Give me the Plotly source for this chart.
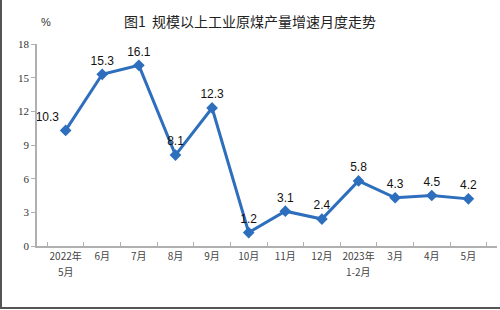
import plotly.graph_objects as go

categories = ["2022年5月", "6月", "7月", "8月", "9月", "10月", "11月", "12月",
              "2023年1-2月", "3月", "4月", "5月"]
tick_line1 = ["2022年", "6月", "7月", "8月", "9月", "10月", "11月", "12月",
              "2023年", "3月", "4月", "5月"]
tick_line2 = ["5月", "", "", "", "", "", "", "", "1-2月", "", "", ""]
values = [10.3, 15.3, 16.1, 8.1, 12.3, 1.2, 3.1, 2.4, 5.8, 4.3, 4.5, 4.2]
labels = ["10.3", "15.3", "16.1", "8.1", "12.3", "1.2", "3.1", "2.4", "5.8", "4.3", "4.5", "4.2"]
y_ticks = [0, 3, 6, 9, 12, 15, 18]

positions = ["top left"] + ["top center"] * (len(values) - 1)

fig = go.Figure(go.Scatter(
    x=categories, y=values, mode="lines+markers+text",
    line=dict(color="#2e6fbd", width=3),
    marker=dict(symbol="diamond", size=9, color="#2e6fbd"),
    text=labels, textposition=positions,
    textfont=dict(family="Arial, Liberation Sans", size=12, color="#111"),
    cliponaxis=False,
))

annotations = [dict(text="%", xref="paper", yref="paper", x=0.005, y=1.11,
                    showarrow=False, xanchor="left", yanchor="middle",
                    font=dict(family="Arial, Liberation Sans", size=11, color="#333"))]
for cat, t2 in zip(categories, tick_line2):
    if t2:
        annotations.append(dict(text=t2, xref="x", yref="paper", x=cat, y=0,
                                yshift=-25, yanchor="middle", xanchor="center",
                                showarrow=False,
                                font=dict(family="Noto Sans CJK SC", size=10, color="#444")))

fig.update_layout(
    width=500, height=310,
    margin=dict(l=37, r=3, t=44, b=64),
    paper_bgcolor="white", plot_bgcolor="white",
    showlegend=False,
    title=dict(text="图1  规模以上工业原煤产量增速月度走势", x=0.5, xanchor="center",
               y=0.93, yanchor="middle",
               font=dict(family="Noto Sans CJK SC", size=14, color="#222")),
    xaxis=dict(showline=True, linecolor="#b0b0b0", linewidth=1.5,
               ticks="inside", ticklen=4, tickcolor="#b0b0b0", tickson="boundaries",
               tickangle=0, tickvals=categories, ticktext=tick_line1,
               tickfont=dict(family="Noto Sans CJK SC", size=10, color="#444"),
               showgrid=False, fixedrange=True),
    yaxis=dict(range=[0, 18], tickvals=y_ticks, showline=True, linecolor="#b0b0b0",
               linewidth=1.5, ticks="outside", ticklen=4, tickcolor="#b0b0b0",
               tickfont=dict(family="Liberation Serif", size=11, color="#333"),
               showgrid=False, zeroline=False, fixedrange=True),
    annotations=annotations,
    shapes=[
        dict(type="line", xref="paper", yref="paper", x0=-36/460, x1=-36/460,
             y0=-63/202, y1=1.23, line=dict(color="#555", width=2)),
        dict(type="line", xref="paper", yref="paper", x0=-37/460, x1=1.01,
             y0=-62/202, y1=-62/202, line=dict(color="#555", width=2)),
    ],
)

fig.write_html("out.html")
